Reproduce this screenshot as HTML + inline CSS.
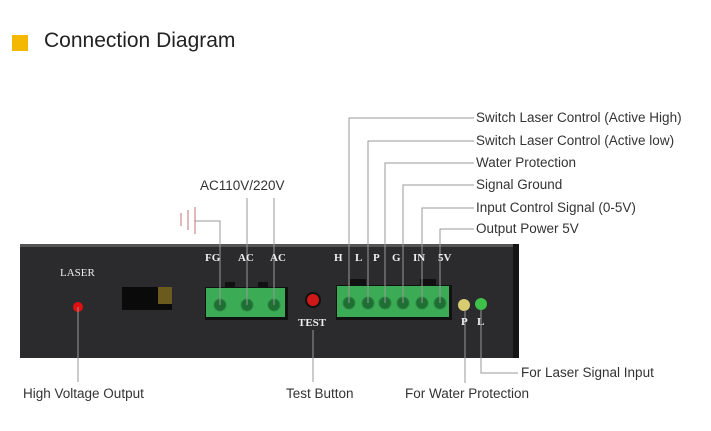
<!DOCTYPE html>
<html><head><style>
body{margin:0;background:#fff;width:711px;height:431px;overflow:hidden;position:relative;font-family:"Liberation Sans",sans-serif}
.t{position:absolute;font-size:13.5px;color:#333;white-space:nowrap}
.s{position:absolute;font-family:"Liberation Serif",serif;font-size:11px;color:#eee;font-weight:bold}
</style></head><body>
<div style="position:absolute;left:12px;top:35px;width:16px;height:16px;background:#f5b800"></div>
<div style="position:absolute;left:44px;top:29px;font-size:21px;color:#222">Connection Diagram</div>
<svg width="711" height="431" style="position:absolute;left:0;top:0">
<rect x="20" y="244" width="499" height="114" fill="#2b2b2d"/>
<rect x="20" y="244" width="499" height="3" fill="#555"/>
<rect x="513" y="244" width="6" height="114" fill="#151515"/>
<rect x="122" y="287" width="50" height="23" fill="#0a0a0a"/>
<rect x="158" y="287" width="14" height="17" fill="#6b5a1e"/>
<circle cx="78" cy="307" r="5" fill="#e01010"/>
<circle cx="313" cy="300" r="7" fill="#d01818" stroke="#111" stroke-width="2"/>
<rect x="225" y="282" width="10" height="6" fill="#111"/><rect x="258" y="282" width="10" height="6" fill="#111"/>
<rect x="205" y="287" width="83" height="33" fill="#111"/>
<rect x="206" y="288" width="79" height="29" fill="#3cab55"/>
<rect x="350" y="279" width="16" height="7" fill="#111"/><rect x="420" y="279" width="16" height="7" fill="#111"/>
<rect x="336" y="285" width="116" height="35" fill="#111"/>
<rect x="337" y="286" width="112" height="31" fill="#3cab55"/>
<g fill="#1f6e34" stroke="#2a8a42">
<circle cx="220" cy="305" r="6"/><circle cx="247" cy="305" r="6"/><circle cx="274" cy="305" r="6"/>
<circle cx="349" cy="303" r="6"/><circle cx="368" cy="303" r="6"/><circle cx="385" cy="303" r="6"/><circle cx="403" cy="303" r="6"/><circle cx="422" cy="303" r="6"/><circle cx="440" cy="303" r="6"/>
</g>
<circle cx="464" cy="305" r="6" fill="#d8cc70"/>
<circle cx="481" cy="304" r="6" fill="#3ec04a"/>
<g stroke="#999" stroke-width="1" fill="none">
<polyline points="474,118 349,118 349,303"/>
<polyline points="474,141 368,141 368,303"/>
<polyline points="474,163 385,163 385,303"/>
<polyline points="474,185 403,185 403,303"/>
<polyline points="474,208 422,208 422,303"/>
<polyline points="474,229 440,229 440,303"/>
<line x1="247" y1="198" x2="247" y2="305"/>
<line x1="274" y1="198" x2="274" y2="305"/>
<polyline points="195,221 220,221 220,305"/>
<line x1="78" y1="307" x2="78" y2="382"/>
<line x1="313" y1="330" x2="313" y2="382"/>
<line x1="465" y1="310" x2="465" y2="383"/>
<polyline points="481,310 481,373 518,373"/>
</g>
<g stroke="#c07070" stroke-width="1">
<line x1="181" y1="213" x2="181" y2="226"/><line x1="188" y1="210" x2="188" y2="230"/><line x1="195" y1="207" x2="195" y2="234"/>
</g>
</svg>
<div class="s" style="left:60px;top:267px;font-weight:normal">LASER</div>
<div class="s" style="left:205px;top:252px">FG</div>
<div class="s" style="left:238px;top:252px">AC</div>
<div class="s" style="left:270px;top:252px">AC</div>
<div class="s" style="left:298px;top:317px">TEST</div>
<div class="s" style="left:334px;top:252px">H</div>
<div class="s" style="left:355px;top:252px">L</div>
<div class="s" style="left:373px;top:252px">P</div>
<div class="s" style="left:392px;top:252px">G</div>
<div class="s" style="left:413px;top:252px">IN</div>
<div class="s" style="left:438px;top:252px">5V</div>
<div class="s" style="left:461px;top:316px">P</div>
<div class="s" style="left:477px;top:316px">L</div>
<div class="t" style="left:200px;top:178px">AC110V/220V</div>
<div class="t" style="left:476px;top:110px">Switch Laser Control (Active High)</div>
<div class="t" style="left:476px;top:133px">Switch Laser Control (Active low)</div>
<div class="t" style="left:476px;top:155px">Water Protection</div>
<div class="t" style="left:476px;top:177px">Signal Ground</div>
<div class="t" style="left:476px;top:200px">Input Control Signal (0-5V)</div>
<div class="t" style="left:476px;top:221px">Output Power 5V</div>
<div class="t" style="left:521px;top:365px">For Laser Signal Input</div>
<div class="t" style="left:405px;top:386px">For Water Protection</div>
<div class="t" style="left:286px;top:386px">Test Button</div>
<div class="t" style="left:23px;top:386px">High Voltage Output</div>
</body></html>
